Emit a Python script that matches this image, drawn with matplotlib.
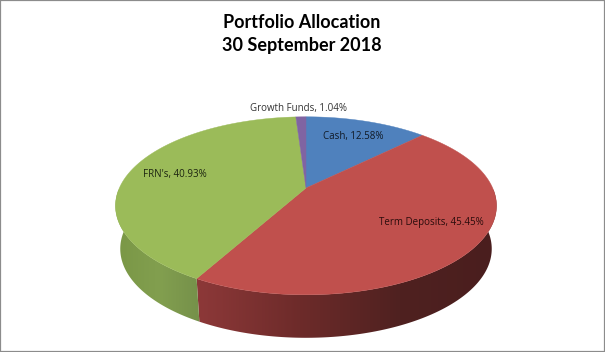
import numpy as np
import matplotlib
matplotlib.use("Agg")
import matplotlib.pyplot as plt
from matplotlib.colors import to_rgb
from matplotlib.patches import Polygon

categories = ["Cash", "Term Deposits", "FRN's", "Growth Funds"]
values = [12.58, 45.45, 40.93, 1.04]
colors = ["#4F81BD", "#C0504D", "#9BBB59", "#8064A2"]
title_lines = ["Portfolio Allocation", "30 September 2018"]

# side wall shading, (pixel x, colour) going left to right
wall_stops = {
    "Term Deposits": [(200, "#8c3838"), (300, "#6d2b2a"), (400, "#4f2120"), (495, "#4a1e1e")],
    "FRN's": [(116, "#7a9746"), (160, "#829f4f"), (201, "#75904a")],
}

# where each label sits, pixels
label_pos = {
    "Cash": (353, 137),
    "Term Deposits": (431, 223),
    "FRN's": (174.5, 175),
    "Growth Funds": (299, 109),
}
label_colors = {
    "Cash": "#111a26",
    "Term Deposits": "#2a0c0c",
    "FRN's": "#1c2410",
    "Growth Funds": "#333333",
}

# top face: tilted disc, the pivot sits above the middle of the ellipse
cx, pivot_y = 306, 188
k = 0.2
rx = 190.5 * np.sqrt(1 - k * k)
ry = 89 * (1 - k * k)
depth = 43
bottom_scale = 0.975


def project(a, r=1.0):
    # a is clockwise from 12 o'clock, radians
    u = r * np.sin(a)
    v = r * np.cos(a)
    d = 1 + k * v
    return cx + rx * u / d, pivot_y - ry * v / d


fig = plt.figure(figsize=(6.05, 3.52), dpi=100)
ax = fig.add_axes([0, 0, 1, 1])
ax.set_xticks([])
ax.set_yticks([])
for s in ax.spines.values():
    s.set_color("#8c8c8c")
    s.set_linewidth(1.6)

edges = np.deg2rad(np.concatenate([[0], np.cumsum(values)]) * 3.6)
y_mid = pivot_y + 18

# side walls are gradient images clipped to the wall outline
for i, name in enumerate(categories):
    if name not in wall_stops:
        continue
    aa = np.linspace(edges[i], edges[i + 1], 200)
    x, y = project(aa)
    bx = cx + (x - cx) * bottom_scale
    by = y_mid + depth + (y - y_mid)
    outline = np.column_stack([np.r_[x, bx[::-1]], np.r_[y, by[::-1]]])
    stops = wall_stops[name]
    xs = np.array([s[0] for s in stops])
    rgb = np.array([to_rgb(s[1]) for s in stops])
    grid = np.arange(xs[0] - 5, xs[-1] + 5)
    strip = np.column_stack([np.interp(grid, xs, rgb[:, c]) for c in range(3)])
    im = ax.imshow(strip[np.newaxis, :, :], extent=(grid[0], grid[-1], 345, 190),
                   aspect="auto", zorder=2, interpolation="bilinear")
    patch = Polygon(outline, closed=True, transform=ax.transData,
                    facecolor="none", edgecolor="none")
    ax.add_patch(patch)
    im.set_clip_path(patch)

# top face
for i, name in enumerate(categories):
    aa = np.linspace(edges[i], edges[i + 1], int(values[i] * 6) + 2)
    x, y = project(aa)
    ax.fill(np.r_[cx, x], np.r_[pivot_y, y], color=colors[i], lw=0.3, zorder=3)

for i, name in enumerate(categories):
    lx, ly = label_pos[name]
    ax.text(lx, ly, f"{name}, {values[i]:.2f}%", ha="center", va="center",
            fontsize=7, family="Open Sans", color=label_colors[name], zorder=4)

ax.text(302, 22, title_lines[0], ha="center", va="center", fontsize=13,
        family="Lato", fontweight="bold", color="black")
ax.text(302, 45, title_lines[1], ha="center", va="center", fontsize=13,
        family="Lato", fontweight="bold", color="black")

ax.set_xlim(0, 605)
ax.set_ylim(352, 0)

fig.savefig("out.png", dpi=100)
